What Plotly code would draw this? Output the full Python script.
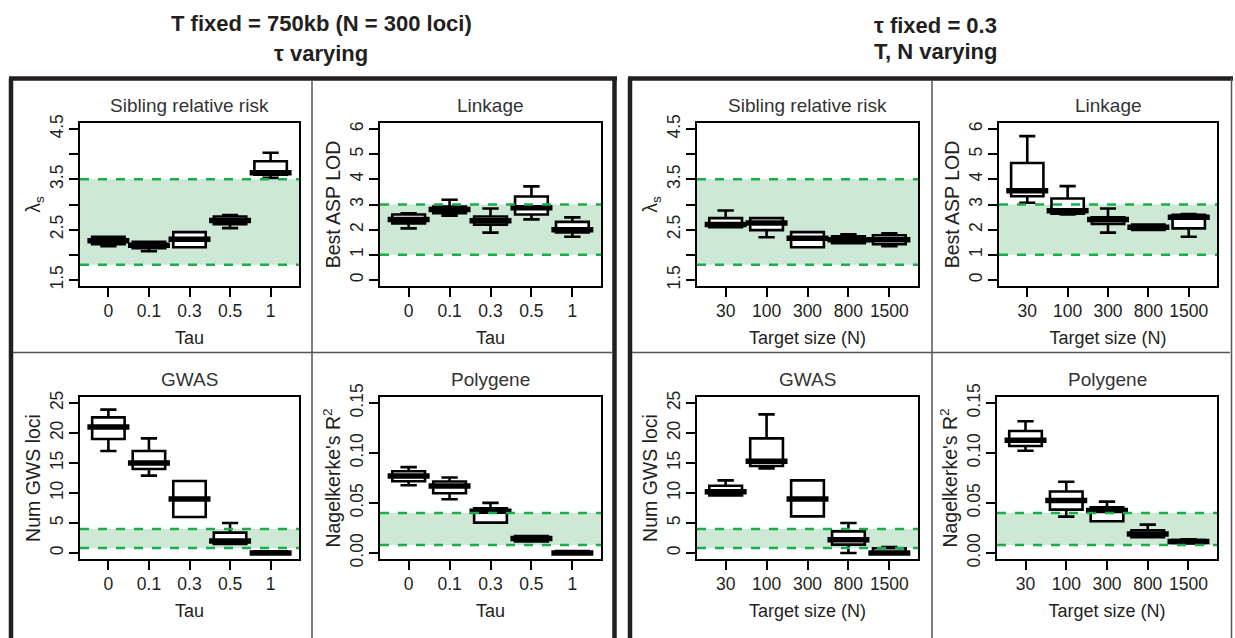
import plotly.graph_objects as go

# ---------------- data ----------------
tau_labels = ["0", "0.1", "0.3", "0.5", "1"]
size_labels = ["30", "100", "300", "800", "1500"]

# Sibling relative risk vs Tau
sib_tau_low = [2.17, 2.07, 2.15, 2.53, 3.53]
sib_tau_q1 = [2.21, 2.13, 2.15, 2.61, 3.59]
sib_tau_med = [2.28, 2.19, 2.31, 2.68, 3.63]
sib_tau_q3 = [2.36, 2.26, 2.45, 2.76, 3.86]
sib_tau_high = [2.36, 2.26, 2.45, 2.79, 4.03]

# Linkage vs Tau
link_tau_low = [2.05, 2.55, 1.88, 2.41, 1.72]
link_tau_q1 = [2.25, 2.65, 2.20, 2.60, 1.89]
link_tau_med = [2.40, 2.80, 2.35, 2.87, 2.00]
link_tau_q3 = [2.60, 2.92, 2.52, 3.32, 2.31]
link_tau_high = [2.65, 3.19, 2.84, 3.72, 2.49]

# GWAS vs Tau
gwas_tau_low = [17.0, 12.9, 6.0, 1.5, 0.0]
gwas_tau_q1 = [19.0, 14.0, 6.0, 1.5, 0.0]
gwas_tau_med = [21.0, 15.0, 9.0, 2.0, 0.0]
gwas_tau_q3 = [22.6, 17.0, 12.0, 3.4, 0.3]
gwas_tau_high = [23.9, 19.1, 12.0, 5.0, 0.3]

# Polygene vs Tau
poly_tau_low = [0.0678, 0.0538, 0.0304, 0.0116, 0.0]
poly_tau_q1 = [0.0718, 0.0598, 0.0304, 0.0116, 0.0]
poly_tau_med = [0.0770, 0.0670, 0.0417, 0.0145, 0.0]
poly_tau_q3 = [0.0818, 0.0715, 0.0447, 0.0170, 0.002]
poly_tau_high = [0.0859, 0.0755, 0.0501, 0.0170, 0.002]

# Sibling relative risk vs Target size
sib_size_low = [2.55, 2.35, 2.15, 2.23, 2.17]
sib_size_q1 = [2.55, 2.49, 2.15, 2.23, 2.21]
sib_size_med = [2.60, 2.63, 2.33, 2.30, 2.30]
sib_size_q3 = [2.73, 2.73, 2.45, 2.37, 2.39]
sib_size_high = [2.88, 2.73, 2.45, 2.41, 2.43]

# Linkage vs Target size
link_size_low = [3.07, 2.60, 1.88, 1.99, 1.72]
link_size_q1 = [3.33, 2.63, 2.23, 1.99, 2.05]
link_size_med = [3.55, 2.75, 2.40, 2.10, 2.49]
link_size_q3 = [4.65, 3.24, 2.49, 2.20, 2.59]
link_size_high = [5.72, 3.73, 2.84, 2.20, 2.62]

# GWAS vs Target size
gwas_size_low = [9.6, 14.1, 6.1, 0.0, 0.0]
gwas_size_q1 = [9.6, 14.5, 6.1, 1.4, 0.0]
gwas_size_med = [10.2, 15.3, 9.0, 2.2, 0.0]
gwas_size_q3 = [11.2, 19.1, 12.1, 3.6, 0.8]
gwas_size_high = [12.1, 23.1, 12.1, 5.0, 1.0]

# Polygene vs Target size
poly_size_low = [0.1023, 0.0364, 0.0317, 0.0157, 0.0096]
poly_size_q1 = [0.1070, 0.0434, 0.0317, 0.0157, 0.0100]
poly_size_med = [0.1127, 0.0525, 0.0424, 0.0190, 0.0115]
poly_size_q3 = [0.1220, 0.0615, 0.0457, 0.0227, 0.0130]
poly_size_high = [0.1317, 0.0712, 0.0514, 0.0284, 0.0137]

# observed ranges (green bands)
sib_band = [1.8, 3.5]
link_band = [1.0, 3.0]
gwas_band = [0.85, 4.0]
poly_band = [0.008, 0.04]

# y tick values / labels (labelled ticks) and minor tick step
sib_ticks = [1.5, 2.5, 3.5, 4.5]
sib_ticktext = ["1.5", "2.5", "3.5", "4.5"]
sib_minor = 0.5
link_ticks = [0, 1, 2, 3, 4, 5, 6]
link_ticktext = ["0", "1", "2", "3", "4", "5", "6"]
gwas_ticks = [0, 5, 10, 15, 20, 25]
gwas_ticktext = ["0", "5", "10", "15", "20", "25"]
poly_ticks = [0.0, 0.05, 0.10, 0.15]
poly_ticktext = ["0.00", "0.05", "0.10", "0.15"]

# ---------------- layout helpers ----------------
W, H = 1235, 638
FONT = "Liberation Sans, Arial, sans-serif"
TXT = "#231f20"
BAND_FILL = "#cde9d6"
BAND_LINE = "#1aae4a"


def fx(p):
    return p / W


def fy(p):
    return 1 - p / H


panels = [
    dict(title="Sibling relative risk", cats=tau_labels, xtitle="Tau", ytitle="λ<sub>s</sub>",
         stats=(sib_tau_low, sib_tau_q1, sib_tau_med, sib_tau_q3, sib_tau_high),
         band=sib_band, yr=[1.38, 4.62], tv=sib_ticks, tt=sib_ticktext, minor=sib_minor,
         box=(80, 299, 123, 286)),
    dict(title="Linkage", cats=tau_labels, xtitle="Tau", ytitle="Best ASP LOD",
         stats=(link_tau_low, link_tau_q1, link_tau_med, link_tau_q3, link_tau_high),
         band=link_band, yr=[-0.24, 6.24], tv=link_ticks, tt=link_ticktext, minor=None,
         box=(380, 601, 123, 286)),
    dict(title="Sibling relative risk", cats=size_labels, xtitle="Target size (N)", ytitle="λ<sub>s</sub>",
         stats=(sib_size_low, sib_size_q1, sib_size_med, sib_size_q3, sib_size_high),
         band=sib_band, yr=[1.38, 4.62], tv=sib_ticks, tt=sib_ticktext, minor=sib_minor,
         box=(697, 918, 123, 286)),
    dict(title="Linkage", cats=size_labels, xtitle="Target size (N)", ytitle="Best ASP LOD",
         stats=(link_size_low, link_size_q1, link_size_med, link_size_q3, link_size_high),
         band=link_band, yr=[-0.24, 6.24], tv=link_ticks, tt=link_ticktext, minor=None,
         box=(999, 1217, 123, 286)),
    dict(title="GWAS", cats=tau_labels, xtitle="Tau", ytitle="Num GWS loci",
         stats=(gwas_tau_low, gwas_tau_q1, gwas_tau_med, gwas_tau_q3, gwas_tau_high),
         band=gwas_band, yr=[-1.0, 26.0], tv=gwas_ticks, tt=gwas_ticktext, minor=None,
         box=(80, 299, 397, 559)),
    dict(title="Polygene", cats=tau_labels, xtitle="Tau", ytitle="Nagelkerke's R<sup>2</sup>",
         stats=(poly_tau_low, poly_tau_q1, poly_tau_med, poly_tau_q3, poly_tau_high),
         band=poly_band, yr=[-0.006, 0.156], tv=poly_ticks, tt=poly_ticktext, minor=None,
         box=(380, 601, 397, 559)),
    dict(title="GWAS", cats=size_labels, xtitle="Target size (N)", ytitle="Num GWS loci",
         stats=(gwas_size_low, gwas_size_q1, gwas_size_med, gwas_size_q3, gwas_size_high),
         band=gwas_band, yr=[-1.0, 26.0], tv=gwas_ticks, tt=gwas_ticktext, minor=None,
         box=(697, 918, 397, 559)),
    dict(title="Polygene", cats=size_labels, xtitle="Target size (N)", ytitle="Nagelkerke's R<sup>2</sup>",
         stats=(poly_size_low, poly_size_q1, poly_size_med, poly_size_q3, poly_size_high),
         band=poly_band, yr=[-0.006, 0.156], tv=poly_ticks, tt=poly_ticktext, minor=None,
         box=(997, 1217, 397, 559)),
]

fig = go.Figure()
annotations = []
shapes = []

for i, p in enumerate(panels, start=1):
    sfx = "" if i == 1 else str(i)
    xa, ya = "x" + sfx, "y" + sfx
    low, q1, med, q3, high = p["stats"]
    fig.add_trace(go.Box(
        x=p["cats"], q1=q1, median=med, q3=q3, lowerfence=low, upperfence=high,
        xaxis=xa, yaxis=ya, fillcolor="white", line=dict(color="black", width=2.6),
        width=0.8, whiskerwidth=0.5, boxpoints=False, showlegend=False, hoverinfo="skip"))
    fig.add_trace(go.Scatter(
        x=p["cats"], y=med, xaxis=xa, yaxis=ya, mode="markers",
        marker=dict(symbol="line-ew", size=30, line=dict(width=5.5, color="black")),
        showlegend=False, hoverinfo="skip"))

    x0, x1, y0, y1 = p["box"]
    axis_common = dict(showline=True, mirror=True, linecolor="black", linewidth=2,
                       ticks="outside", ticklen=9, tickwidth=2, tickcolor="black",
                       showgrid=False, zeroline=False, automargin=False)
    fig.layout["xaxis" + sfx] = dict(
        domain=[fx(x0), fx(x1)], anchor=ya, type="category", range=[-0.7, 4.7],
        tickfont=dict(family=FONT, size=17.5, color=TXT),
        title=dict(text=p["xtitle"], font=dict(family=FONT, size=18, color=TXT), standoff=11),
        ticklabelstandoff=-1, **axis_common)
    yax = dict(
        domain=[fy(y1), fy(y0)], anchor=xa, range=p["yr"], tickmode="array",
        tickvals=p["tv"], ticktext=p["tt"], tickangle=-90,
        tickfont=dict(family=FONT, size=17.5, color=TXT),
        title=dict(text=p["ytitle"], font=dict(family=FONT, size=19.5, color=TXT), standoff=1),
        ticklabelstandoff=-1, **axis_common)
    if p["minor"]:
        yax["minor"] = dict(tick0=p["tv"][0], dtick=p["minor"], ticks="outside", ticklen=9,
                            tickwidth=2, tickcolor="black", showgrid=False)
    fig.layout["yaxis" + sfx] = yax

    lo, hi = p["band"]
    shapes.append(dict(type="rect", xref=xa + " domain", yref=ya, x0=0, x1=1, y0=lo, y1=hi,
                       fillcolor=BAND_FILL, line=dict(width=0), layer="below"))
    for v in (lo, hi):
        shapes.append(dict(type="line", xref=xa + " domain", yref=ya, x0=0, x1=1, y0=v, y1=v,
                           line=dict(color=BAND_LINE, width=2.5, dash="dash"), layer="above"))

    annotations.append(dict(text=p["title"], xref="paper", yref="paper",
                            x=fx((x0 + x1) / 2), y=fy(y0 - 18), xanchor="center", yanchor="middle",
                            showarrow=False, font=dict(family=FONT, size=19, color="#333333")))

# frames and dividers (pixel positions)
FR = "#231f20"


def pline(xa_, ya_, xb_, yb_, w, col=FR):
    shapes.append(dict(type="line", xref="paper", yref="paper",
                       x0=fx(xa_), y0=fy(ya_), x1=fx(xb_), y1=fy(yb_),
                       line=dict(color=col, width=w), layer="above"))


# left frame
pline(11, 78.5, 11, 645, 4.5)
pline(9, 78.5, 617, 78.5, 4.5)
pline(614.5, 78.5, 614.5, 645, 4.5)
# right frame
pline(630, 78.5, 630, 645, 4.5)
pline(628, 78.5, 1233, 78.5, 4.5)
pline(1231.5, 78.5, 1231.5, 645, 1.5, "#555555")
# dividers
pline(312, 80, 312, 645, 1.5, "#555555")
pline(13, 352.5, 612, 352.5, 1.5, "#555555")
pline(932, 80, 932, 645, 1.5, "#555555")
pline(632, 352.5, 1230, 352.5, 1.5, "#555555")

# main headers
for txt, xc, yc in [("T fixed = 750kb (N = 300 loci)", 321, 23), ("τ varying", 321, 53),
                    ("τ fixed = 0.3", 935, 25), ("T, N varying", 935, 52)]:
    annotations.append(dict(text="<b>" + txt + "</b>", xref="paper", yref="paper",
                            x=fx(xc), y=fy(yc), xanchor="center", yanchor="middle",
                            showarrow=False, font=dict(family=FONT, size=22, color=TXT)))

fig.update_layout(width=W, height=H, margin=dict(l=0, r=0, t=0, b=0, pad=0, autoexpand=False),
                  paper_bgcolor="white", plot_bgcolor="white",
                  annotations=annotations, shapes=shapes, showlegend=False)

fig.write_html("out.html")
